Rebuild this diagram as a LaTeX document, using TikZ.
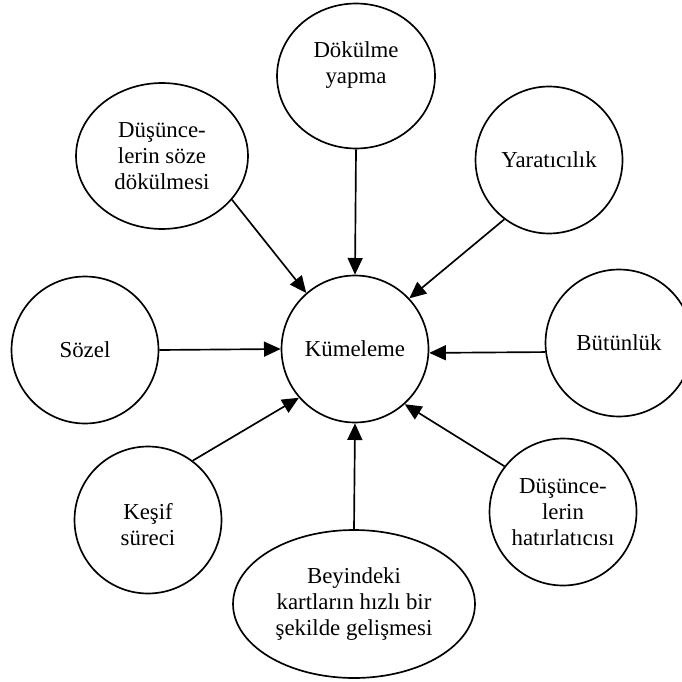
\documentclass[tikz,border=0pt]{standalone}
\usepackage{fontspec}
\setmainfont{Liberation Serif}
\usepackage{tikz}
\usetikzlibrary{shapes.geometric,arrows.meta}

\begin{document}
\begin{tikzpicture}[
  x=0.02cm, y=-0.02cm,
  bub/.style={ellipse,draw,line width=0.95pt,inner sep=0pt,
    minimum width=2.94cm,minimum height=2.94cm,
    font=\fontsize{13}{14.8}\selectfont,align=center},
  ar/.style={-{Triangle[length=9.5pt,width=8.5pt]},line width=0.95pt}
]
\useasboundingbox (0,0) rectangle (682,682);

\node[bub] (kum) at (355,349) {Kümeleme};
\node[bub,minimum width=3.16cm,minimum height=2.9cm] (dok) at (356,76) {Dökülme\\yapma\\\mbox{}};
\node[bub,minimum width=3.44cm,minimum height=2.92cm] (ds) at (162,156) {Düşünce-\\lerin söze\\dökülmesi};
\node[bub] (yar) at (549,160) {Yaratıcılık};
\node[bub] (soz) at (85,350) {Sözel};
\node[bub] (but) at (619,343) {Bütünlük};
\node[bub] (kes) at (148,520) {\mbox{}\\Keşif\\süreci};
\node[bub] (hat) at (563,512) {Düşünce-\\lerin\\hatırlatıcısı};
\node[bub,minimum width=4.84cm,minimum height=2.96cm] (bey) at (354,604) {Beyindeki\\kartların hızlı bir\\şekilde gelişmesi};

\draw[ar] (dok.south) -- (kum.north);
\draw[ar] (ds.-32) -- (kum.131);
\draw[ar] (yar.233) -- (kum.43);
\draw[ar] (soz.east) -- (kum.west);
\draw[ar] (but.187) -- (kum.-3);
\draw[ar] (kes.53) -- (kum.221);
\draw[ar] (bey.north) -- (kum.south);
\draw[ar] (hat.142) -- (kum.-48);
\end{tikzpicture}
\end{document}
